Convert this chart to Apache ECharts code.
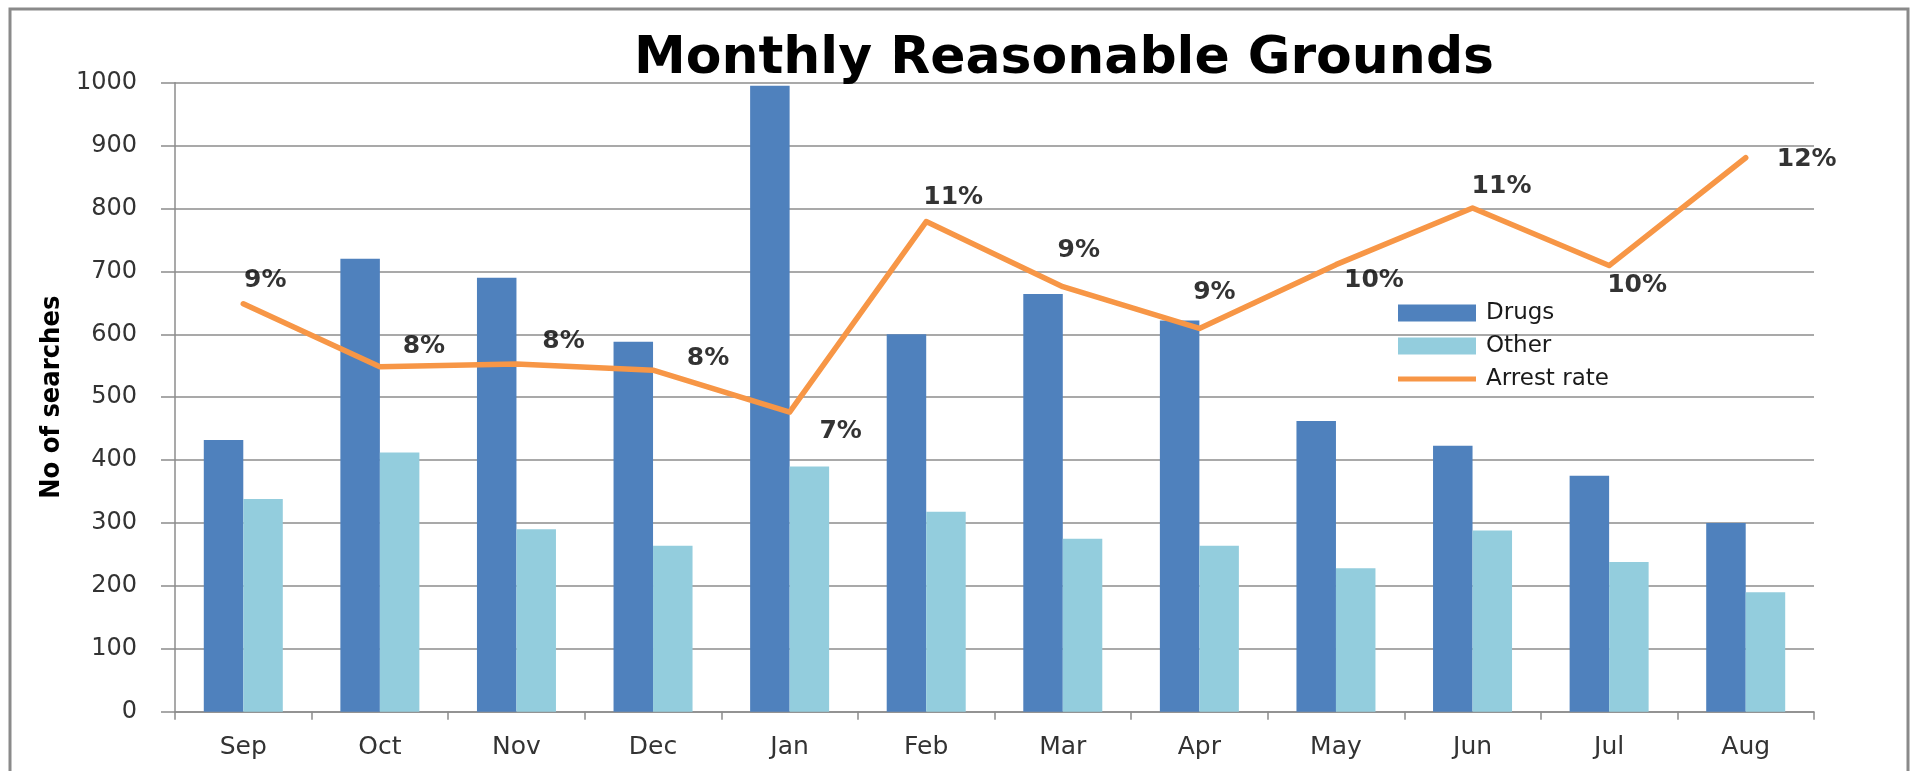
<!DOCTYPE html>
<html>
<head>
<meta charset="utf-8">
<script src="https://cdn.jsdelivr.net/npm/echarts@6/dist/echarts.min.js"></script>
<style>
html,body{margin:0;padding:0;background:#ffffff;}
#chart{width:1918px;height:771px;}
</style>
</head>
<body>
<div id="chart"></div>
<script>
// ---- data ----
const months = ['Sep','Oct','Nov','Dec','Jan','Feb','Mar','Apr','May','Jun','Jul','Aug'];
const drugs = [432, 720, 690, 588, 995, 600, 664, 622, 462, 423, 375, 300];
const other = [338, 412, 290, 264, 390, 318, 275, 264, 228, 288, 238, 190];
// arrest rate in percent (secondary, hidden axis 0-14%)
const arrestRate = [9.08, 7.68, 7.74, 7.60, 6.67, 10.91, 9.46, 8.53, 9.95, 11.21, 9.93, 12.33];
const seriesNames = ['Drugs', 'Other', 'Arrest rate'];

// ---- label placement (px offsets from each point) ----
const labelOffsets = [[22,-23],[44,-20],[47,-22],[55,-12],[51,19],[27,-24],[16,-36],[15,-36],[38,16],[29,-22],[28,20],[61,2]];

const gray = '#8c8c8c';
const labelFont = 'DejaVu Sans, sans-serif';

const chart = echarts.init(document.getElementById('chart'), null, {renderer:'canvas'});
chart.setOption({
  animation: false,
  backgroundColor: '#ffffff',
  title: {
    text: 'Monthly Reasonable Grounds',
    left: 634,
    top: 33,
    padding: 0,
    textStyle: {fontFamily: labelFont, fontWeight: 'bold', fontSize: 52, color: '#000000'}
  },
  graphic: [{
    type: 'rect', silent: true, z: -10,
    shape: {x: 10, y: 9, width: 1898, height: 790},
    style: {fill: 'none', stroke: '#8a8a8a', lineWidth: 3}
  }],
  legend: {
    data: [
      {name: seriesNames[0], icon: 'rect'},
      {name: seriesNames[1], icon: 'rect'},
      {name: seriesNames[2], icon: 'path://M0,0L78,0L78,5L0,5Z', symbolKeepAspect: true}
    ],
    orient: 'vertical',
    left: 1393,
    top: 296,
    itemWidth: 78,
    itemHeight: 17,
    itemGap: 9,
    symbolKeepAspect: true,
    textStyle: {fontFamily: labelFont, fontSize: 23, color: '#1a1a1a', lineHeight: 24, padding: [0,0,0,5]}
  },
  grid: {left: 175, right: 104, top: 82.7, bottom: 59.3, containLabel: false},
  xAxis: {
    type: 'category',
    data: months,
    boundaryGap: true,
    axisLine: {lineStyle: {color: gray, width: 1.5}},
    axisTick: {show: true, length: 8, alignWithLabel: false, lineStyle: {color: gray, width: 1.5}},
    axisLabel: {margin: 23, fontFamily: labelFont, fontSize: 25, color: '#333333'}
  },
  yAxis: [{
    type: 'value',
    min: 0, max: 1000, interval: 100,
    name: 'No of searches',
    nameLocation: 'middle',
    nameGap: 108,
    nameRotate: 90,
    nameTextStyle: {fontFamily: "'Liberation Sans Narrow', 'DejaVu Sans Condensed', sans-serif", fontWeight: 'bold', fontSize: 27, color: '#000000'},
    axisLine: {show: true, lineStyle: {color: gray, width: 1.5}},
    axisTick: {show: true, length: 14, lineStyle: {color: gray, width: 1.5}},
    axisLabel: {margin: 38, fontFamily: labelFont, fontSize: 24, color: '#333333', formatter: v => String(v)},
    splitLine: {show: true, lineStyle: {color: gray, width: 1.5}}
  }, {
    type: 'value',
    min: 0, max: 14,
    show: false,
    splitLine: {show: false}
  }],
  series: [{
    name: 'Drugs',
    type: 'bar',
    data: drugs,
    barWidth: 39.5,
    barGap: '0%',
    itemStyle: {color: '#4F81BD'}
  }, {
    name: 'Other',
    type: 'bar',
    data: other,
    barWidth: 39.5,
    barGap: '0%',
    itemStyle: {color: '#93CDDD'}
  }, {
    name: 'Arrest rate',
    type: 'line',
    yAxisIndex: 1,
    data: arrestRate,
    symbol: 'none',
    z: 5,
    lineStyle: {color: '#F79646', width: 5.5, cap: 'round', join: 'round'},
    itemStyle: {color: '#F79646'}
  }, {
    name: 'Arrest rate labels',
    type: 'scatter',
    yAxisIndex: 1,
    z: 6,
    symbol: 'circle',
    symbolSize: 0,
    itemStyle: {color: 'rgba(0,0,0,0)'},
    data: arrestRate.map((v, i) => ({
      value: v,
      label: {offset: labelOffsets[i]}
    })),
    label: {
      show: true,
      position: 'inside',
      formatter: p => Math.round(p.value) + '%',
      fontFamily: labelFont,
      fontWeight: 'bold',
      fontSize: 25,
      color: '#000000'
    }
  }]
});
</script>
</body>
</html>
